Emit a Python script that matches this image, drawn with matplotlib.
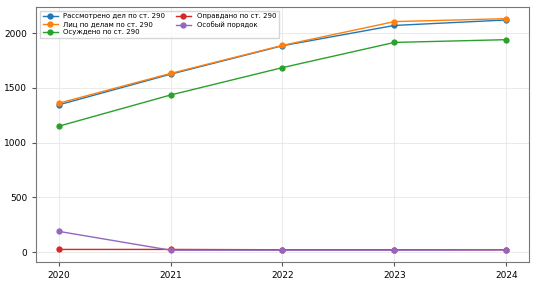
import matplotlib
matplotlib.use("Agg")
import matplotlib.pyplot as plt

years = [2020, 2021, 2022, 2023, 2024]
considered = [1345, 1625, 1885, 2070, 2120]
persons = [1360, 1632, 1888, 2105, 2132]
convicted = [1150, 1435, 1685, 1915, 1940]
acquitted = [25, 25, 22, 22, 22]
special = [190, 18, 18, 18, 20]

fig, ax = plt.subplots(figsize=(5.34, 2.83), dpi=100)
ax.plot(years, considered, marker='o', ms=3.5, lw=1, label='Рассмотрено дел по ст. 290')
ax.plot(years, persons, marker='o', ms=3.5, lw=1, label='Лиц по делам по ст. 290')
ax.plot(years, convicted, marker='o', ms=3.5, lw=1, label='Осуждено по ст. 290')
ax.plot(years, acquitted, marker='o', ms=3.5, lw=1, color='#d62728', label='Оправдано по ст. 290')
ax.plot(years, special, marker='o', ms=3.5, lw=1, color='#9467bd', label='Особый порядок')

ax.set_xticks(years)
ax.set_yticks([0, 500, 1000, 1500, 2000])
ax.tick_params(labelsize=6.5, length=3, color='#555555')
ax.grid(True, color='#e6e6e6', lw=0.6)
for s in ax.spines.values():
    s.set_color('#777777')
ax.legend(ncol=2, fontsize=5, loc='upper left', frameon=True, borderpad=0.4,
          handlelength=2.2, columnspacing=1.5, labelspacing=0.3, fancybox=False)
fig.subplots_adjust(left=0.068, right=0.99, top=0.975, bottom=0.075)
fig.savefig('out.png')
